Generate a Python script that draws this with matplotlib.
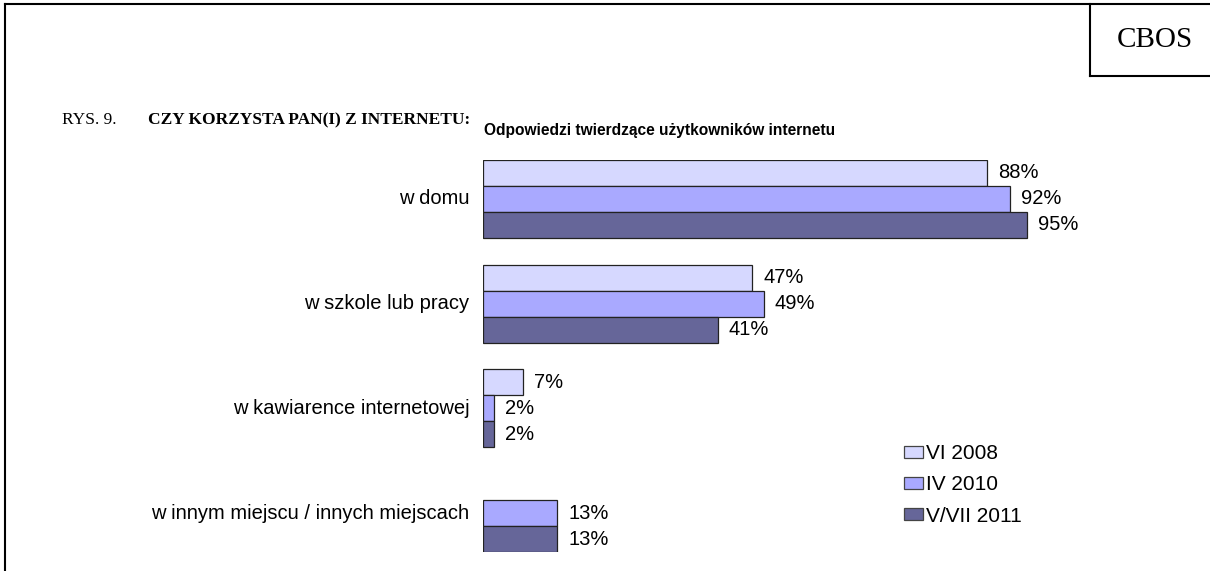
#!/usr/bin/env python3
import numpy as np
import matplotlib.pyplot as plt
from matplotlib.patches import Rectangle
from matplotlib.lines import Line2D

# data
categories = ["w domu", "w szkole lub pracy", "w kawiarence internetowej",
              "w innym miejscu / innych miejscach"]
series_names = ["VI 2008", "IV 2010", "V/VII 2011"]
vals_2008 = [88, 47, 7, np.nan]
vals_2010 = [92, 49, 2, 13]
vals_2011 = [95, 41, 2, 13]
colors = ["#D6D8FF", "#A9A9FF", "#666699"]

W, H = 1210, 571
fig = plt.figure(figsize=(W / 100, H / 100), dpi=100)

sans = ["Liberation Sans", "DejaVu Sans"]
serif = ["Liberation Serif", "DejaVu Serif"]
fs = 14.5

# axes geometry in pixels
x0_px, x100_px = 483, 1056
top_px, bot_px = 160, 552
pitch = 4.04
ax = fig.add_axes([x0_px / W, 1 - bot_px / H, (x100_px - x0_px) / W, (bot_px - top_px) / H])
ax.set_xlim(0, 100)
ax.set_ylim(3 * pitch + 1.5, -1.5)
ax.axis("off")

centers = np.arange(len(categories)) * pitch
for k, vals in enumerate([vals_2008, vals_2010, vals_2011]):
    ypos = centers + (k - 1)
    for y, v in zip(ypos, vals):
        if np.isnan(v):
            continue
        ax.barh(y, v, height=1.0, color=colors[k], edgecolor="#222222", linewidth=0.9)
        ax.text(v + 1.9, y, f"{v:.0f}%", ha="left", va="center", fontsize=fs, family=sans)

for y, c in zip(centers, categories):
    ax.text(-2.4, y, c, ha="right", va="center", fontsize=fs, family=sans)

# legend
leg_items = [Rectangle((0, 0), 1, 1, facecolor=colors[i], edgecolor="#444444", linewidth=0.9)
             for i in range(3)]
fig.legend(leg_items, series_names, loc="upper left", bbox_to_anchor=(896 / W, 1 - 436 / H),
           frameon=False, prop={"family": sans, "size": 15}, handlelength=0.9,
           handleheight=0.55, handletextpad=0.15, labelspacing=0.58, borderaxespad=0)

# titles
fig.text(62 / W, 1 - 120 / H, "RYS. 9.", ha="left", va="center", fontsize=12.5, family=serif)
fig.text(148 / W, 1 - 120 / H, "CZY KORZYSTA PAN(I) Z INTERNETU:", ha="left", va="center",
         fontsize=12.5, family=serif, fontweight="bold")
fig.text(484 / W, 1 - 130 / H, "Odpowiedzi twierdzące użytkowników internetu",
         ha="left", va="center", fontsize=11.2, family=sans, fontweight="bold")
fig.text(1155 / W, 1 - 40 / H, "CBOS", ha="center", va="center", fontsize=21, family=serif)

# frame lines
def px_line(xs, ys):
    fig.add_artist(Line2D([x / W for x in xs], [1 - y / H for y in ys], color="black",
                          linewidth=1.5, transform=fig.transFigure))

px_line([5, W], [4, 4])
px_line([5, 5], [4, H])
px_line([1090, 1090], [4, 76])
px_line([1090, W], [76, 76])

fig.savefig("out.png", dpi=100)
